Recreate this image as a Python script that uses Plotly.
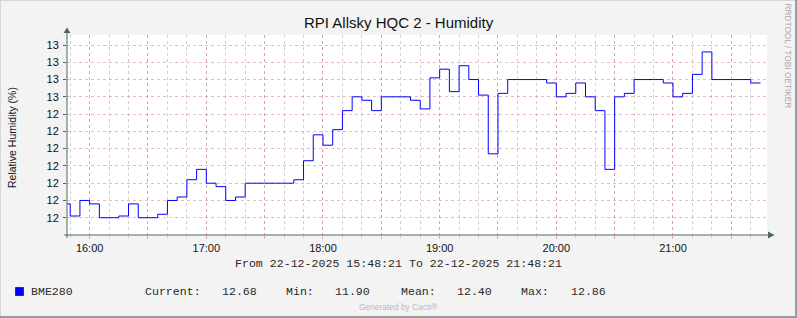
import pandas as pd
import plotly.graph_objects as go

# ---------------- data ----------------
title_text = "RPI Allsky HQC 2 - Humidity"
y_title = "Relative Humidity (%)"
series_name = "BME280"
start_time = "2025-12-22 15:45:00"
step_minutes = 5
humidity = [
    11.98, 11.91, 12.00, 11.98, 11.90, 11.90, 11.91, 11.98, 11.90, 11.90,
    11.92, 12.00, 12.02, 12.12, 12.18, 12.10, 12.08, 12.00, 12.02, 12.10,
    12.10, 12.10, 12.10, 12.10, 12.12, 12.23, 12.38, 12.32, 12.41, 12.52,
    12.60, 12.58, 12.52, 12.60, 12.60, 12.60, 12.58, 12.53, 12.71, 12.76,
    12.63, 12.78, 12.70, 12.61, 12.27, 12.62, 12.70, 12.70, 12.70, 12.70,
    12.68, 12.60, 12.62, 12.68, 12.60, 12.52, 12.18, 12.60, 12.62, 12.70,
    12.70, 12.70, 12.68, 12.60, 12.62, 12.73, 12.86, 12.70, 12.70, 12.70,
    12.70, 12.68,
]
x_range = ["2025-12-22 15:48:21", "2025-12-22 21:48:21"]
x_tick_vals = pd.date_range("2025-12-22 16:00", "2025-12-22 21:30", freq="30min")
x_tick_labels = ["16:00", "", "17:00", "", "18:00", "", "19:00", "", "20:00", "", "21:00", ""]
y_range = [11.8, 12.958]
y_tick_vals = [11.9, 12.0, 12.1, 12.2, 12.3, 12.4, 12.5, 12.6, 12.7, 12.8, 12.9]
y_tick_labels = ["12", "12", "12", "12", "12", "12", "12", "13", "13", "13", "13"]
period_text = "From 22-12-2025 15:48:21 To 22-12-2025 21:48:21"
legend_labels = ["Current:", "Min:", "Mean:", "Max:"]
legend_values = ["12.68", "11.90", "12.40", "12.86"]
side_text = "RRDTOOL / TOBI OETIKER"
footer_text = "Generated by Cacti®"

# ---------------- figure ----------------
W, H = 797, 318
L, R, T, B = 67, 30, 35, 83
PW, PH = W - L - R, H - T - B


def px(x):
    return (x - L) / PW


def py(y):
    return (H - B - y) / PH


times = list(pd.date_range(start_time, periods=len(humidity), freq=f"{step_minutes}min"))
x_line = times + [times[-1] + pd.Timedelta(minutes=step_minutes)]
y_line = humidity + [humidity[-1]]

AXIS = "#4b6859"
RED_GRID = "rgba(228,130,130,0.55)"
GRAY_GRID = "rgba(175,175,175,0.6)"
SANS = "Liberation Sans, Arial, sans-serif"
MONO = "Liberation Mono, Courier New, monospace"

fig = go.Figure()
fig.add_trace(go.Scatter(
    x=x_line, y=y_line, mode="lines", line=dict(color="#0000FF", width=1, shape="hv"),
    hoverinfo="skip", showlegend=False,
))

fig.update_layout(
    width=W, height=H,
    margin=dict(l=L, r=R, t=T, b=B, pad=0),
    paper_bgcolor="#F3F3F3", plot_bgcolor="#FFFFFF",
    showlegend=False,
    xaxis=dict(
        type="date", range=x_range,
        tickvals=list(x_tick_vals), ticktext=x_tick_labels,
        showgrid=True, gridcolor=RED_GRID, griddash="dot", gridwidth=1,
        ticks="outside", ticklen=3, tickcolor=RED_GRID,
        minor=dict(dtick=600000, tick0="2025-12-22 00:00", showgrid=True,
                   gridcolor=GRAY_GRID, griddash="dot", gridwidth=1,
                   ticks="outside", ticklen=2, tickcolor=GRAY_GRID),
        showline=False, zeroline=False,
        tickfont=dict(family=SANS, size=11, color="#111"),
        fixedrange=True,
    ),
    yaxis=dict(
        range=y_range, tickvals=y_tick_vals, ticktext=y_tick_labels,
        showgrid=True, gridcolor=RED_GRID, griddash="dot", gridwidth=1,
        ticks="outside", ticklen=3, tickcolor=AXIS,
        showline=False, zeroline=False,
        tickfont=dict(family=SANS, size=11, color="#111"),
        ticklabelstandoff=2,
        fixedrange=True,
    ),
)

shapes = []
# frame
shapes.append(dict(type="line", xref="paper", yref="paper", x0=px(0.5), x1=px(0.5), y0=py(0), y1=py(H),
                   line=dict(color="#d6d6d6", width=1)))
shapes.append(dict(type="line", xref="paper", yref="paper", x0=px(0), x1=px(W), y0=py(0.5), y1=py(0.5),
                   line=dict(color="#d6d6d6", width=1)))
shapes.append(dict(type="line", xref="paper", yref="paper", x0=px(W - 1), x1=px(W - 1), y0=py(0), y1=py(H),
                   line=dict(color="#9a9a9a", width=2)))
shapes.append(dict(type="line", xref="paper", yref="paper", x0=px(0), x1=px(W), y0=py(H - 1), y1=py(H - 1),
                   line=dict(color="#9a9a9a", width=2)))
# axes with arrows
shapes.append(dict(type="line", xref="paper", yref="paper", x0=px(64), x1=px(770), y0=py(235), y1=py(235),
                   line=dict(color=AXIS, width=1)))
shapes.append(dict(type="line", xref="paper", yref="paper", x0=px(67), x1=px(67), y0=py(238), y1=py(32),
                   line=dict(color=AXIS, width=1)))
shapes.append(dict(type="path", xref="paper", yref="paper",
                   path=f"M {px(768)} {py(231.5)} L {px(774.5)} {py(235)} L {px(768)} {py(238.5)} Z",
                   fillcolor=AXIS, line=dict(color=AXIS, width=0)))
shapes.append(dict(type="path", xref="paper", yref="paper",
                   path=f"M {px(63.5)} {py(33)} L {px(67)} {py(27.5)} L {px(70.5)} {py(33)} Z",
                   fillcolor=AXIS, line=dict(color=AXIS, width=0)))
# legend swatch
shapes.append(dict(type="rect", xref="paper", yref="paper", x0=px(15.5), x1=px(23.5), y0=py(287.5), y1=py(295.5),
                   fillcolor="#0000FF", line=dict(color="#2a3a30", width=1)))
fig.update_layout(shapes=shapes)

ann = []
ann.append(dict(text=title_text, x=px(398.5), y=py(22), xref="paper", yref="paper", showarrow=False,
                xanchor="center", yanchor="middle", font=dict(family=SANS, size=15, color="#111")))
ann.append(dict(text=y_title, x=px(12), y=py(138), xref="paper", yref="paper", showarrow=False,
                textangle=-90, xanchor="center", yanchor="middle", font=dict(family=SANS, size=10.5, color="#111")))
ann.append(dict(text=side_text, x=px(787.5), y=py(56), xref="paper", yref="paper", showarrow=False,
                textangle=90, xanchor="center", yanchor="middle", font=dict(family=SANS, size=8.3, color="#aaaaaa")))
ann.append(dict(text=period_text, x=px(398.5), y=py(263), xref="paper", yref="paper", showarrow=False,
                xanchor="center", yanchor="middle", font=dict(family=MONO, size=11.6, color="#2a2a2a")))
ann.append(dict(text=footer_text, x=px(398.5), y=py(307), xref="paper", yref="paper", showarrow=False,
                xanchor="center", yanchor="middle", font=dict(family=SANS, size=8.4, color="#b8b8b8")))

legend_xs = [30.3, 144, 221, 285.7, 334.3, 400, 456.7, 520.7, 570.7]
legend_texts = [series_name]
for lab, val in zip(legend_labels, legend_values):
    legend_texts += [lab, val]
for xx, tt in zip(legend_xs, legend_texts):
    ann.append(dict(text=tt, x=px(xx - 1.5), y=py(291), xref="paper", yref="paper", showarrow=False,
                    xanchor="left", yanchor="middle", font=dict(family=MONO, size=11.6, color="#2a2a2a")))
fig.update_layout(annotations=ann)

fig.write_html("out.html")
